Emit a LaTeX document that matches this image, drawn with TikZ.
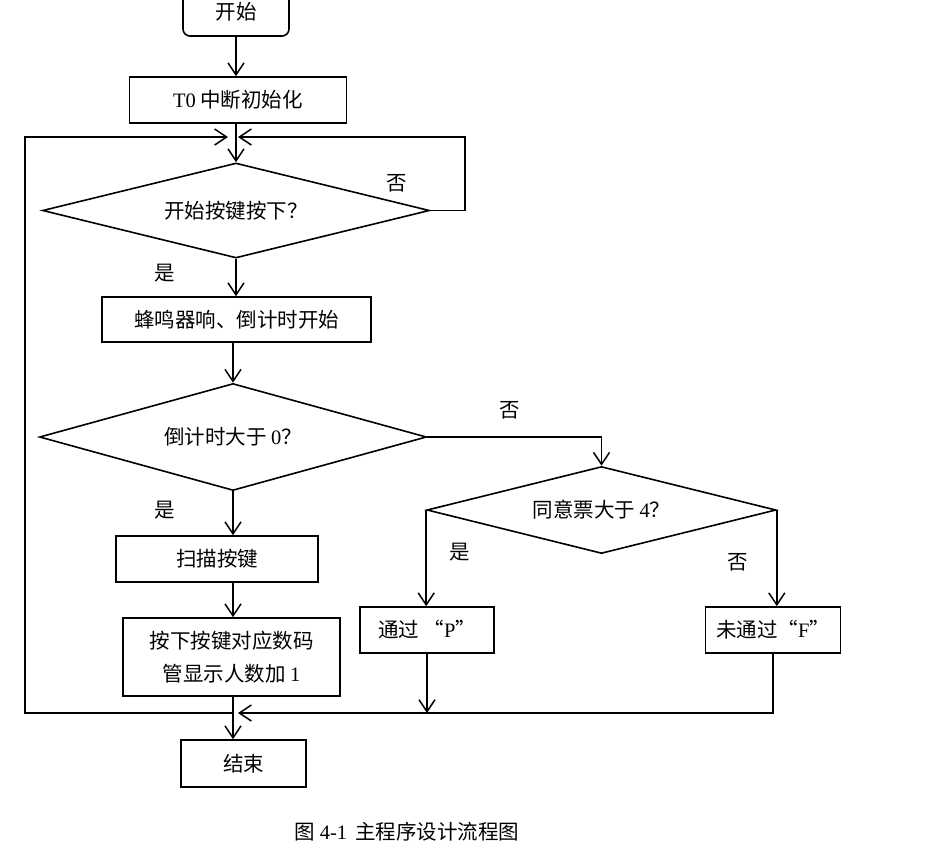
\documentclass[tikz,border=0pt]{standalone}
\usepackage{fontspec}
\setmainfont{Liberation Serif}
\newfontfamily\cjk{Noto Sans CJK SC}
\usetikzlibrary{shapes.geometric,arrows.meta}
\newcommand{\lat}[1]{{\rmfamily #1}}
\begin{document}
\begin{tikzpicture}[x=1pt, y=-1pt, line width=1.6pt,
    font=\cjk\fontsize{20.5}{33}\selectfont,
    box/.style={draw, rectangle, inner sep=0pt},
    cond/.style={draw, diamond, inner sep=0pt},
    arr/.style={-{Straight Barb[length=12pt,width=16pt,line width=1.5pt]}},
    lbl/.style={inner sep=0pt}]
    \useasboundingbox[fill=white] (0,0) rectangle (936,855);
    % Kaesten
    \node[box, rounded corners=7pt, minimum width=106pt, minimum height=48pt] (start) at (236,12) {开始};
    \node[box, minimum width=217pt, minimum height=46pt] (init) at (238,100) {\lat{T0} 中断初始化};
    \node[cond, aspect=4.07, minimum width=387pt, minimum height=95pt] (d1) at (236,210.5) {开始按键按下？};
    \node[box, minimum width=269pt, minimum height=45pt] (beep) at (236.5,319.5) {蜂鸣器响、倒计时开始};
    \node[cond, aspect=3.62, minimum width=387pt, minimum height=107pt] (d2) at (233,437) {倒计时大于 \lat{0}？};
    \node[box, minimum width=202pt, minimum height=46pt] (scan) at (217,559) {扫描按键};
    \node[box, minimum width=217pt, minimum height=78pt, align=center] (show) at (231.5,657) {按下按键对应数码\\管显示人数加 \lat{1}};
    \node[box, minimum width=125pt, minimum height=47pt] (stop) at (243.5,763.5) {结束};
    \node[cond, aspect=4.01, minimum width=349pt, minimum height=87pt] (d3) at (601.5,510) {同意票大于 \lat{4}？};
    \node[box, minimum width=134pt, minimum height=46pt] (pass) at (427,630) {通过 “\lat{P}”};
    \node[box, minimum width=135pt, minimum height=46pt] (fail) at (773,630) {未通过“\lat{F}”};
    % Knotenpunkte
    \coordinate (tj) at (236,137);
    \coordinate (bj) at (233,713);
    \coordinate (rloop) at (465,137);
    \coordinate (lloop) at (25,137);
    % Pfeile
    \draw[arr] (start.south -| tj) -- (init.north -| tj);
    \draw[arr] (init.south -| tj) -- (d1.north);
    \draw[arr] (d1.south) -- (beep.north -| d1.south);
    \draw[arr] (beep.south -| d2.north) -- (d2.north);
    \draw[arr] (d2.south) -- (scan.north -| d2.south);
    \draw[arr] (scan.south -| d2.south) -- (show.north -| d2.south);
    \draw[arr] (show.south -| bj) -- (stop.north -| bj);
    \draw[arr] (d1.east) -| (rloop) -- ([xshift=2pt]tj);
    \draw[arr] (bj) -| (lloop) -- ([xshift=-8pt]tj);
    \draw[arr] (d2.east) -| (d3.north);
    \draw[arr] (d3.west) -- (pass.north -| d3.west);
    \draw[arr] (d3.east) -- (fail.north -| d3.east);
    \draw[arr] (pass.south) -- (bj -| pass.south);
    \draw[arr] (fail.south) |- ([xshift=5pt]bj);
    % Beschriftung
    \node[lbl] (no1) at (397,183) {否};
    \node[lbl] (yes1) at (165,273) {是};
    \node[lbl] (no2) at (510,410) {否};
    \node[lbl] (yes2) at (165,510) {是};
    \node[lbl] (yes3) at (460,552) {是};
    \node[lbl] (no3) at (738,562) {否};
    \node[lbl] (caption) at (407,832) {图 \lat{4-1}\, 主程序设计流程图};
\end{tikzpicture}
\end{document}
